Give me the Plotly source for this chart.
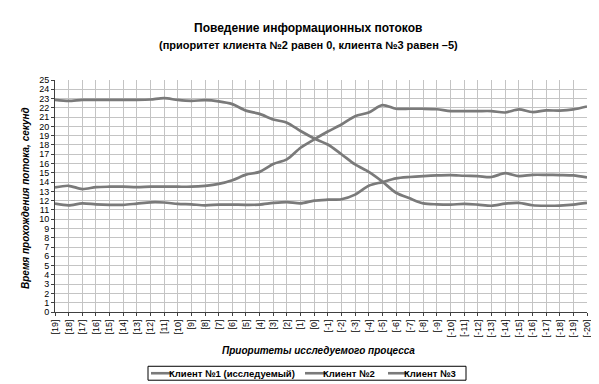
import plotly.graph_objects as go

categories = ["[19]", "[18]", "[17]", "[16]", "[15]", "[14]", "[13]", "[12]", "[11]", "[10]",
              "[9]", "[8]", "[7]", "[6]", "[5]", "[4]", "[3]", "[2]", "[1]", "[0]",
              "[-1]", "[-2]", "[-3]", "[-4]", "[-5]", "[-6]", "[-7]", "[-8]", "[-9]", "[-10]",
              "[-11]", "[-12]", "[-13]", "[-14]", "[-15]", "[-16]", "[-17]", "[-18]", "[-19]", "[-20]"]

client1 = [22.86, 22.75, 22.86, 22.86, 22.86, 22.86, 22.86, 22.9, 23.04, 22.85,
           22.75, 22.83, 22.7, 22.4, 21.7, 21.35, 20.75, 20.4, 19.5, 18.7,
           18.05, 17.0, 15.9, 15.1, 14.05, 12.85, 12.25, 11.7, 11.6, 11.57,
           11.65, 11.57, 11.45, 11.68, 11.75, 11.5, 11.45, 11.47, 11.57, 11.75]

client2 = [13.43, 13.6, 13.25, 13.46, 13.5, 13.5, 13.45, 13.5, 13.5, 13.5,
           13.5, 13.6, 13.8, 14.2, 14.8, 15.1, 15.95, 16.45, 17.7, 18.6,
           19.45, 20.2, 21.1, 21.5, 22.3, 21.9, 21.9, 21.9, 21.85, 21.65,
           21.65, 21.65, 21.65, 21.5, 21.83, 21.55, 21.72, 21.7, 21.83, 22.15]

client3 = [11.68, 11.5, 11.7, 11.6, 11.55, 11.55, 11.68, 11.82, 11.8, 11.65,
           11.6, 11.5, 11.57, 11.57, 11.55, 11.57, 11.75, 11.85, 11.7, 12.0,
           12.1, 12.15, 12.65, 13.6, 14.0, 14.4, 14.55, 14.65, 14.72, 14.75,
           14.68, 14.64, 14.55, 14.96, 14.64, 14.78, 14.78, 14.76, 14.72, 14.5]

series_names = ["Клиент №1 (исследуемый)", "Клиент №2", "Клиент №3"]
y_ticks = list(range(0, 26))

title_line1 = "Поведение информационных потоков"
title_line2 = "(приоритет клиента №2 равен 0, клиента №3 равен –5)"
x_title = "Приоритеты исследуемого процесса"
y_title = "Время прохождения потока, секунд"

FONT = "Liberation Sans, Arial, sans-serif"
LINE_COLOR = "#7a7a7a"
GRID = "#c4c4c4"

# plot area in pixels
L, R, T, B = 47, 579, 71.5, 304.5
W, H = 599, 384


def px(xp):
    return (xp - L) / (R - L)


def py(yp):
    return (B - yp) / (B - T)


fig = go.Figure()
for name, vals in zip(series_names, [client1, client2, client3]):
    fig.add_trace(go.Scatter(
        x=categories, y=vals, name=name, mode="lines", showlegend=False,
        line=dict(color=LINE_COLOR, width=2.7, shape="spline", smoothing=0.8),
    ))

# legend drawn as a boxed row (line sample + bold label per series)
legend_box = (140, 359, 458, 373)
legend_items = [(143, 164, 160), (297, 318, 314), (380, 400, 395)]
shapes = [dict(type="rect", xref="paper", yref="paper",
               x0=px(legend_box[0]), x1=px(legend_box[2]),
               y0=py(legend_box[1]), y1=py(legend_box[3]),
               line=dict(color="black", width=1), fillcolor="white", layer="above")]
annotations = []
ymid = (legend_box[1] + legend_box[3]) / 2
for name, (lx0, lx1, tx) in zip(series_names, legend_items):
    shapes.append(dict(type="line", xref="paper", yref="paper",
                       x0=px(lx0), x1=px(lx1), y0=py(ymid), y1=py(ymid),
                       line=dict(color=LINE_COLOR, width=2.6), layer="above"))
    annotations.append(dict(text="<b>" + name + "</b>", x=px(tx), y=py(ymid),
                            xref="paper", yref="paper", showarrow=False,
                            xanchor="left", yanchor="middle", borderpad=0,
                            font=dict(family=FONT, size=9.5, color="black")))

annotations += [
    dict(text="<b>" + title_line1 + "</b>", x=px(300), y=py(19), xref="paper", yref="paper",
         showarrow=False, xanchor="center", yanchor="middle",
         font=dict(family=FONT, size=12, color="black")),
    dict(text="<b>" + title_line2 + "</b>", x=px(300), y=py(36), xref="paper", yref="paper",
         showarrow=False, xanchor="center", yanchor="middle",
         font=dict(family=FONT, size=11, color="black")),
    dict(text="<b><i>" + x_title + "</i></b>", x=px(310), y=py(343), xref="paper", yref="paper",
         showarrow=False, xanchor="center", yanchor="middle",
         font=dict(family=FONT, size=10, color="black")),
    dict(text="<b><i>" + y_title + "</i></b>", x=px(18), y=py(190), xref="paper", yref="paper",
         showarrow=False, xanchor="center", yanchor="middle", textangle=-90,
         font=dict(family=FONT, size=10, color="black")),
]

fig.update_layout(
    width=W, height=H, autosize=False,
    margin=dict(l=L, r=W - R, t=T, b=H - B, pad=0, autoexpand=False),
    paper_bgcolor="white", plot_bgcolor="white",
    font=dict(family=FONT, size=9, color="black"),
    showlegend=False,
    xaxis=dict(
        type="category", range=[0, len(categories) - 1], automargin=False,
        showgrid=True, gridcolor=GRID, gridwidth=1,
        showline=True, linecolor="#404040", linewidth=1,
        ticks="outside", ticklen=3, tickcolor="#404040",
        tickangle=-90, tickfont=dict(family=FONT, size=9, color="black"),
        zeroline=False, fixedrange=True,
    ),
    yaxis=dict(
        range=[0, 25], tickvals=y_ticks, ticktext=[str(v) for v in y_ticks], automargin=False,
        showgrid=True, gridcolor=GRID, gridwidth=1,
        showline=True, linecolor="#404040", linewidth=1,
        ticks="outside", ticklen=3, tickcolor="#404040",
        tickfont=dict(family=FONT, size=9, color="black"),
        zeroline=False, fixedrange=True,
    ),
    shapes=shapes,
    annotations=annotations,
)

fig.write_html("out.html", config={"displayModeBar": False})
